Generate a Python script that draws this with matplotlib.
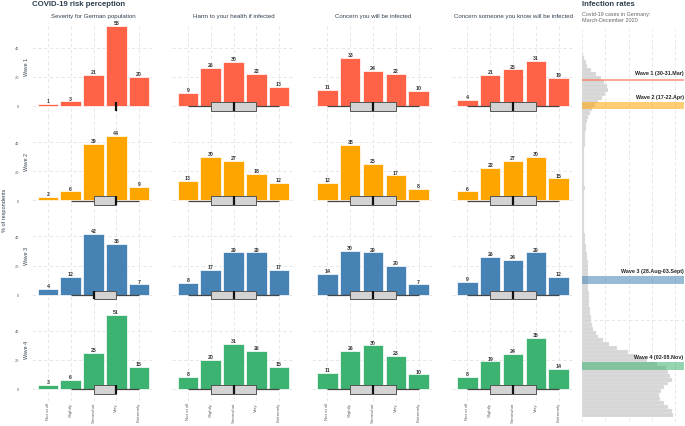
import matplotlib.pyplot as plt
from matplotlib.patches import Rectangle
import pandas as pd

plt.rcParams['font.family'] = ['Liberation Sans', 'DejaVu Sans']

# --- data -------------------------------------------------------------
levels = ["Not at all", "Slightly", "Somewhat", "Very", "Extremely"]
questions = ["Severity for German population", "Harm to your health if infected",
             "Concern you will be infected", "Concern someone you know will be infected"]
wave_names = ["Wave 1", "Wave 2", "Wave 3", "Wave 4"]
wave_colors = ["#FF6347", "#FFA500", "#4682B4", "#3CB371"]

# % of respondents per level, one list per question
wave1_pct = [[1, 3, 21, 55, 20], [9, 26, 30, 22, 13], [11, 33, 24, 22, 10], [4, 21, 25, 31, 19]]
wave2_pct = [[2, 6, 39, 44, 9], [13, 30, 27, 18, 12], [12, 38, 25, 17, 8], [6, 22, 27, 30, 15]]
wave3_pct = [[4, 12, 42, 35, 7], [8, 17, 29, 29, 17], [14, 30, 29, 20, 7], [9, 26, 24, 29, 12]]
wave4_pct = [[3, 6, 25, 51, 15], [8, 20, 31, 26, 15], [11, 26, 30, 23, 10], [8, 19, 24, 35, 14]]
pct = [wave1_pct, wave2_pct, wave3_pct, wave4_pct]

# boxplot summary (whisker low, q1, median, q3, whisker high) on the 1-5 scale
wave1_box = [(4, 4, 4, 4, 4), (1, 2, 3, 4, 5), (1, 2, 3, 4, 5), (1, 2, 3, 4, 5)]
wave2_box = [(2, 3, 4, 4, 5), (1, 2, 3, 4, 5), (1, 2, 3, 4, 5), (1, 2, 3, 4, 5)]
wave3_box = [(2, 3, 3, 4, 5), (1, 2, 3, 4, 5), (1, 2, 3, 4, 5), (1, 2, 3, 4, 5)]
wave4_box = [(2, 3, 4, 4, 5), (1, 2, 3, 4, 5), (1, 2, 3, 4, 5), (1, 2, 3, 4, 5)]
boxes = [wave1_box, wave2_box, wave3_box, wave4_box]

# daily Covid-19 cases in Germany (7-day mean), one value every 3 days from 1 March 2020
case_start = "2020-03-01"
cases = [0, 30, 100, 250, 500, 800, 1100, 2000, 3000, 4000, 4700,
         5400, 5500, 5000, 4300, 3500, 2700, 2200, 1700, 1300, 1100,
         900, 800, 700, 650, 600, 550, 500, 450, 420, 400,
         380, 360, 340, 350, 400, 500, 550, 500, 450, 420,
         400, 380, 370, 380, 400, 420, 450, 500, 550, 600,
         700, 800, 900, 1000, 1100, 1200, 1250, 1300, 1300, 1300, 1300,
         1300, 1350, 1400, 1450, 1500, 1600, 1700, 1800, 1900, 2000,
         2100, 2400, 2900, 3400, 4500, 5800, 7600, 9800, 11800, 14000,
         16000, 18000, 18400, 19000, 19300, 18500, 17500, 17000, 16500, 16800,
         17500, 18500, 19300, 19500]

wave_periods = [("2020-03-30", "2020-03-31"), ("2020-04-17", "2020-04-22"),
                ("2020-08-28", "2020-09-03"), ("2020-11-02", "2020-11-08")]
wave_labels = ["Wave 1 (30-31.Mar)", "Wave 2 (17-22.Apr)",
               "Wave 3 (28.Aug-03.Sept)", "Wave 4 (02-08.Nov)"]

# --- figure -----------------------------------------------------------
W, H = 685, 427
fig = plt.figure(figsize=(W / 100, H / 100), dpi=100)


def add_ax(x0, top, w, h):
    return fig.add_axes([x0 / W, 1 - (top + h) / H, w / W, h / H])


dark = "#2f3e4e"
grey_txt = "#666666"
grid_kw = dict(color="#e3e3e3", linestyle=(0, (4, 3)), linewidth=0.6)

col_x = [32, 172, 311.5, 451.5]
row_top = 24
row_h = 94.4
xpos = list(range(1, 6))

for r in range(4):
    for c in range(4):
        ax = add_ax(col_x[c], row_top + r * row_h, 123, row_h)
        ax.set_xlim(0.3, 5.7)
        ax.set_ylim(-8, 57)
        ax.set_xticks(xpos)
        ax.set_yticks([0, 20, 40])
        ax.grid(True, **grid_kw)
        ax.set_axisbelow(True)
        for s in ax.spines.values():
            s.set_visible(False)
        ax.tick_params(length=0, labelsize=2.9, colors=grey_txt)
        ax.tick_params(axis="x", pad=1)

        vals = pct[r][c]
        ax.bar(xpos, vals, width=0.9, color=wave_colors[r], edgecolor="white", linewidth=0.5)
        for x, v in zip(xpos, vals):
            ax.text(x, v + 0.6, str(v), ha="center", va="bottom", fontsize=3.7,
                    fontweight="bold", color="#333333", clip_on=False)

        lo, q1, med, q3, hi = boxes[r][c]
        yc, bh = -0.3, 6
        ax.plot([lo, q1], [yc, yc], color="#444444", lw=0.9, solid_capstyle="butt")
        ax.plot([q3, hi], [yc, yc], color="#444444", lw=0.9, solid_capstyle="butt")
        ax.add_patch(Rectangle((q1, yc - bh / 2), q3 - q1, bh, facecolor="#d3d3d3",
                               edgecolor="#555555", linewidth=0.7, zorder=3))
        ax.plot([med, med], [yc - bh / 2, yc + bh / 2], color="#111111", lw=1.6, zorder=4,
                solid_capstyle="butt")

        if c == 0:
            ax.tick_params(axis="y", pad=9)
        else:
            ax.set_yticklabels([])
        if r == 3:
            ax.set_xticklabels(levels, rotation=90, fontsize=3.2, va="top", ha="center")
        else:
            ax.set_xticklabels([])
        if r == 0:
            ax.set_title(questions[c], fontsize=4.4, color=dark, pad=4)

    fig.text(27 / W, 1 - (row_top + r * row_h + row_h / 2 - 4) / H, wave_names[r],
             rotation=90, ha="center", va="center", fontsize=3.9, color=dark)

fig.text(5 / W, 1 - 210 / H, "% of respondents", rotation=90, ha="center", va="center",
         fontsize=4, color=dark)
fig.text(32 / W, 1 - 5 / H, "COVID-19 risk perception", ha="left", va="center",
         fontsize=5.6, fontweight="bold", color=dark)

# --- infection rates panel ---------------------------------------------
axr = add_ax(582, 30, 102, 393)
dates = pd.date_range(case_start, periods=len(cases), freq="3D")
axr.barh(dates, cases, height=3, align="edge", color="#d6d6d6", edgecolor="#ececec", linewidth=0.2)
axr.set_ylim(pd.Timestamp("2020-12-18"), pd.Timestamp("2020-02-21"))
axr.set_xlim(0, 21900)
axr.set_xticks([0, 5000, 10000, 15000, 20000])
axr.set_yticks([pd.Timestamp("2020-10-01")])
axr.grid(True, **grid_kw)
axr.set_axisbelow(True)
axr.tick_params(length=0, labelbottom=False, labelleft=False)
for s in axr.spines.values():
    s.set_visible(False)

for (d0, d1), col, lab in zip(wave_periods, wave_colors, wave_labels):
    t0, t1 = pd.Timestamp(d0), pd.Timestamp(d1)
    # keep very short periods visible as a thin band
    t1 = max(t1, t0 + pd.Timedelta(days=1.6))
    axr.axhspan(t0, t1, color=col, alpha=0.55, lw=0)
    axr.text(21800, t0 - pd.Timedelta(days=2.5), lab, ha="right", va="bottom",
             fontsize=3.9, fontweight="bold", color="#222222")

fig.text(582 / W, 1 - 5 / H, "Infection rates", ha="left", va="center",
         fontsize=5.6, fontweight="bold", color=dark)
fig.text(582 / W, 1 - 12 / H, "Covid-19 cases in Germany:\nMarch-December 2020",
         ha="left", va="top", fontsize=3.9, color=grey_txt, linespacing=1.3)

fig.savefig("out.png", dpi=100)
